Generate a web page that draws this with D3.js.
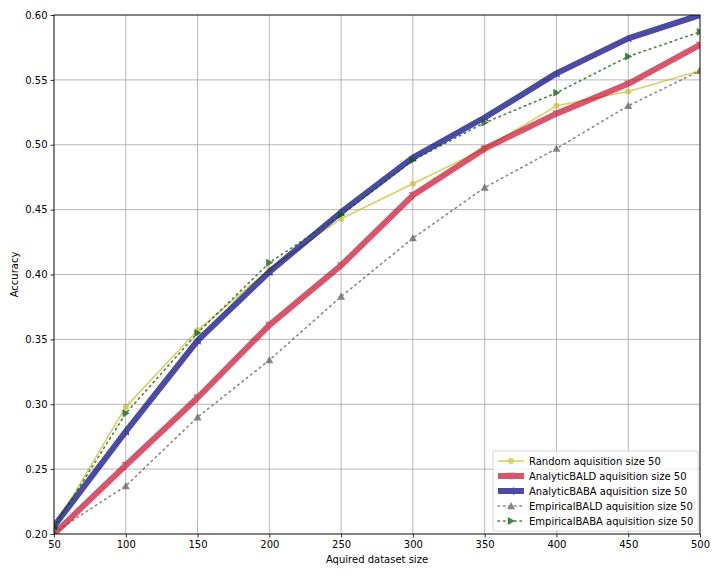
<!DOCTYPE html>
<html><head><meta charset="utf-8">
<script src="https://cdn.jsdelivr.net/npm/d3@7"></script>
<style>body{margin:0;background:#fff}svg{font-family:"DejaVu Sans",sans-serif}</style>
</head><body><svg id="c" width="720" height="576"></svg>
<script>
const sizes = [50,100,150,200,250,300,350,400,450,500];
const randomAcc = [0.205,0.298,0.357,0.404,0.443,0.470,0.497,0.530,0.541,0.557];
const analyticBALD = [0.200,0.253,0.305,0.361,0.407,0.461,0.497,0.524,0.547,0.577];
const analyticBABA = [0.206,0.279,0.349,0.402,0.448,0.490,0.521,0.555,0.582,0.600];
const empiricalBALD = [0.201,0.237,0.290,0.334,0.383,0.428,0.467,0.497,0.530,0.557];
const empiricalBABA = [0.205,0.293,0.355,0.409,0.446,0.488,0.517,0.540,0.568,0.587];
const xTicks = [50,100,150,200,250,300,350,400,450,500];
const yTicks = [0.20,0.25,0.30,0.35,0.40,0.45,0.50,0.55,0.60];
const seriesNames = ["Random aquisition size 50","AnalyticBALD aquisition size 50","AnalyticBABA aquisition size 50","EmpiricalBALD aquisition size 50","EmpiricalBABA aquisition size 50"];

const series = [
  {name:seriesNames[0], values:randomAcc, color:"#c4b000", op:0.6, w:1.6, dash:null, marker:"circle", ms:3},
  {name:seriesNames[1], values:analyticBALD, color:"#c8102e", op:0.7, w:6, dash:null, marker:"down", ms:4},
  {name:seriesNames[2], values:analyticBABA, color:"#00007a", op:0.7, w:6, dash:null, marker:"left", ms:4},
  {name:seriesNames[3], values:empiricalBALD, color:"#555555", op:0.7, w:1.6, dash:"1.5,4", marker:"up", ms:4},
  {name:seriesNames[4], values:empiricalBABA, color:"#0a5a0a", op:0.75, w:1.6, dash:"1.5,4", marker:"right", ms:4}
];

const svg = d3.select("#c");
const L=54, R=700, T=15, B=534;
const x = d3.scaleLinear().domain([50,500]).range([L,R]);
const y = d3.scaleLinear().domain([0.2,0.6]).range([B,T]);

// grid
const g = svg.append("g");
g.selectAll(".gx").data(xTicks).join("line").attr("x1",d=>x(d)).attr("x2",d=>x(d)).attr("y1",T).attr("y2",B).attr("stroke","#a4a4a4").attr("stroke-width",0.8);
g.selectAll(".gy").data(yTicks).join("line").attr("y1",d=>y(d)).attr("y2",d=>y(d)).attr("x1",L).attr("x2",R).attr("stroke","#a4a4a4").attr("stroke-width",0.8);

svg.append("clipPath").attr("id","cp").append("rect").attr("x",L).attr("y",T).attr("width",R-L).attr("height",B-T);
const plot = svg.append("g").attr("clip-path","url(#cp)");

function markerPath(type, s){
  if(type==="circle") return d3.symbol(d3.symbolCircle, s*s*3.2)();
  const r=s;
  if(type==="up") return `M0,${-r}L${r},${r*0.8}L${-r},${r*0.8}Z`;
  if(type==="down") return `M0,${r}L${r},${-r*0.8}L${-r},${-r*0.8}Z`;
  if(type==="left") return `M${-r},0L${r*0.8},${-r}L${r*0.8},${r}Z`;
  if(type==="right") return `M${r},0L${-r*0.8},${-r}L${-r*0.8},${r}Z`;
}

const line = d3.line().x((d,i)=>x(sizes[i])).y(d=>y(d));
series.forEach(s=>{
  const gg = plot.append("g").attr("opacity",s.op);
  gg.append("path").attr("d",line(s.values)).attr("fill","none").attr("stroke",s.color).attr("stroke-width",s.w).attr("stroke-dasharray",s.dash).attr("stroke-linecap",s.dash?"round":"butt").attr("stroke-linejoin","round");
  gg.selectAll("path.m").data(s.values).join("path").attr("class","m").attr("d",markerPath(s.marker,s.ms)).attr("transform",(d,i)=>`translate(${x(sizes[i])},${y(d)})`).attr("fill",s.color);
});

// axes
const xa = svg.append("g").attr("transform",`translate(0,${B})`).call(d3.axisBottom(x).tickValues(xTicks).tickSize(3.5).tickPadding(3));
const ya = svg.append("g").attr("transform",`translate(${L},0)`).call(d3.axisLeft(y).tickValues(yTicks).tickFormat(d3.format(".2f")).tickSize(3.5).tickPadding(3));
[xa,ya].forEach(a=>{a.select(".domain").remove();a.selectAll("text").attr("font-size",10).attr("font-family","DejaVu Sans").attr("fill","#000");a.selectAll("line").attr("stroke","#000").attr("stroke-width",0.8);});
svg.append("rect").attr("x",L).attr("y",T).attr("width",R-L).attr("height",B-T).attr("fill","none").attr("stroke","#000").attr("stroke-width",0.8);

svg.append("text").attr("x",(L+R)/2).attr("y",563).attr("text-anchor","middle").attr("font-size",10).text("Aquired dataset size");
svg.append("text").attr("transform",`translate(18,${(T+B)/2}) rotate(-90)`).attr("text-anchor","middle").attr("font-size",10).text("Accuracy");

// legend
const lg = svg.append("g").attr("transform","translate(493,451)");
lg.append("rect").attr("width",205).attr("height",80).attr("rx",2).attr("fill","#fff").attr("fill-opacity",0.8).attr("stroke","#cccccc").attr("stroke-width",0.8);
series.forEach((s,i)=>{
  const yy = 10 + i*15;
  const e = lg.append("g").attr("opacity",s.op);
  e.append("line").attr("x1",5).attr("x2",31).attr("y1",yy).attr("y2",yy).attr("stroke",s.color).attr("stroke-width",s.w).attr("stroke-dasharray",s.dash).attr("stroke-linecap",s.dash?"round":"butt");
  e.append("path").attr("d",markerPath(s.marker,s.ms)).attr("transform",`translate(18,${yy})`).attr("fill",s.color);
  lg.append("text").attr("x",36).attr("y",yy+3.5).attr("font-size",10).text(s.name);
});
</script></body></html>
